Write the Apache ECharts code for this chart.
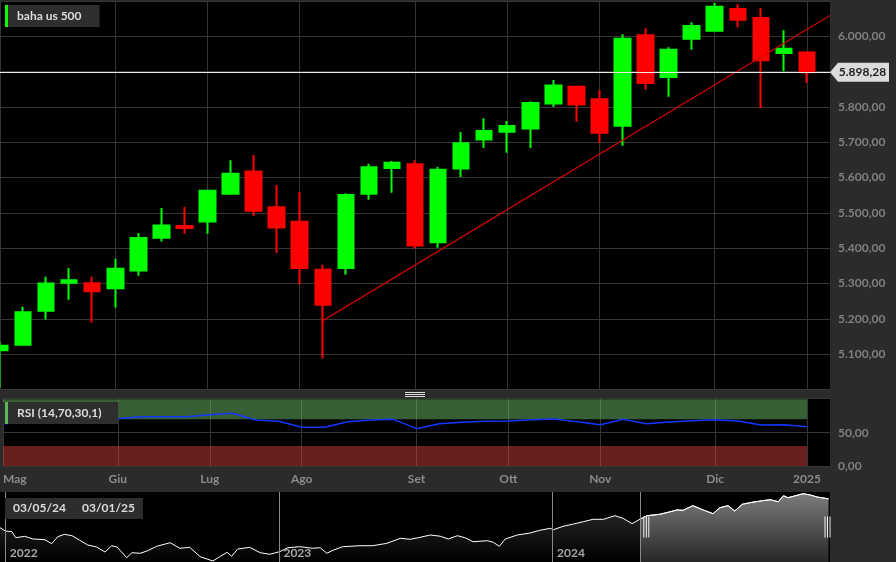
<!DOCTYPE html>
<html><head><meta charset="utf-8">
<script src="https://cdn.jsdelivr.net/npm/echarts@6/dist/echarts.min.js"></script>
<style>html,body{margin:0;padding:0;background:#2b2b2b}#c{width:896px;height:562px}</style>
</head><body><div id="c"></div>
<script>
// ---- data ----
const categories = ['2024-05-03','2024-05-10','2024-05-17','2024-05-24','2024-05-31','2024-06-07','2024-06-14','2024-06-21','2024-06-28','2024-07-05','2024-07-12','2024-07-19','2024-07-26','2024-08-02','2024-08-09','2024-08-16','2024-08-23','2024-08-30','2024-09-06','2024-09-13','2024-09-20','2024-09-27','2024-10-04','2024-10-11','2024-10-18','2024-10-25','2024-11-01','2024-11-08','2024-11-15','2024-11-22','2024-11-29','2024-12-06','2024-12-13','2024-12-20','2024-12-27','2025-01-03','2025-01-10'];
const opens  = [5111,5127,5223,5302,5301,5287,5337,5430,5463,5476,5554,5617,5516,5475,5339,5344,5554,5627,5638,5417,5626,5708,5730,5739,5810,5857,5822,5747,6003,5885,5993,6016,6077,6052,5953,5954];
const closes = [5124,5219,5300,5309,5278,5342,5429,5464,5457,5563,5611,5506,5459,5344,5240,5551,5629,5642,5408,5622,5697,5732,5746,5811,5861,5807,5727,5993,5868,5962,6029,6084,6047,5932,5965,5898.28];
const lows   = [5006,5125,5198,5254,5190,5232,5322,5419,5441,5441,5554,5492,5387,5297,5088,5325,5537,5557,5399,5401,5602,5684,5670,5684,5800,5758,5698,5690,5849,5829,5962,6016,6026,5797,5901,5868];
const highs  = [5135,5234,5319,5344,5319,5370,5443,5514,5517,5565,5649,5664,5579,5559,5353,5556,5639,5647,5649,5630,5729,5768,5760,5816,5876,5861,5847,6006,6023,5969,6040,6094,6091,6080,6017,5954];
const rsiValues = [63.5,66,70,71,69,71,74,74,74,77,79,69,67,58,58,66.5,69,70,56,63.5,65.6,67,67.6,69.5,70.5,66.5,62,70,63.5,66,68,69.5,67.6,61.6,62,59];
const monthTickIdx = [0,5,9,13,18,22,26,31,35];
const monthLabels  = ['Mag','Giu','Lug','Ago','Set','Ott','Nov','Dic','2025'];
const trendIdx    = [14,36];
const trendValues = [5195,6059];
const navDates = ['2021-12-25','2022-01-01','2022-01-10','2022-01-15','2022-01-27','2022-02-07','2022-02-23','2022-03-04','2022-03-12','2022-03-21','2022-03-31','2022-04-10','2022-04-21','2022-05-03','2022-05-14','2022-05-23','2022-05-30','2022-06-12','2022-06-19','2022-06-30','2022-07-10','2022-07-22','2022-08-09','2022-08-22','2022-09-04','2022-09-18','2022-10-05','2022-10-14','2022-10-24','2022-10-30','2022-11-07','2022-11-23','2022-12-07','2022-12-20','2023-01-02','2023-01-13','2023-01-29','2023-02-15','2023-02-25','2023-03-06','2023-03-14','2023-03-27','2023-04-19','2023-05-06','2023-05-25','2023-06-12','2023-06-25','2023-07-06','2023-07-22','2023-08-04','2023-08-15','2023-08-27','2023-09-06','2023-09-17','2023-10-06','2023-10-14','2023-10-22','2023-10-30','2023-11-15','2023-12-02','2023-12-15','2023-12-29','2024-01-02','2024-01-15','2024-01-29','2024-02-11','2024-02-24','2024-03-09','2024-03-24','2024-04-04','2024-04-16','2024-04-27','2024-05-06','2024-05-23','2024-06-03','2024-06-15','2024-06-23','2024-07-06','2024-07-20','2024-08-02','2024-08-11','2024-08-22','2024-08-31','2024-09-10','2024-09-23','2024-10-07','2024-10-17','2024-10-28','2024-11-04','2024-11-10','2024-11-30','2024-12-10','2024-12-19','2025-01-03'];
const navValues = [4824,4701,4675,4452,4503,4403,4377,4228,4488,4578,4526,4365,4179,4105,3918,4153,4105,3706,3892,3870,3967,4131,4265,4056,4093,3743,3583,3743,3907,3758,4030,4093,3892,3833,3930,4079,4116,4056,4079,3870,3982,4116,4153,4153,4242,4429,4392,4451,4552,4507,4403,4526,4451,4302,4340,4280,4131,4403,4552,4627,4727,4802,4749,4876,4962,5047,5137,5137,5271,5174,4973,5148,5271,5323,5398,5484,5472,5644,5484,5346,5569,5644,5446,5696,5770,5830,5867,5793,6016,5941,6090,6041,5967,5898];
const navSelStart = '2024-04-27';
const yearLines  = ['2022-01-01','2023-01-01','2024-01-01'];
const yearLabels = ['2022','2023','2024'];
const seriesName = 'baha us 500';
const rsiName = 'RSI (14,70,30,1)';

// ---- helpers ----
function fmt(v){const s=Number(v).toFixed(2).split('.');return s[0].replace(/\B(?=(\d{3})+(?!\d))/g,'.')+','+s[1];}
function ddmmyy(s){const p=s.split('-');return p[2]+'/'+p[1]+'/'+p[0].slice(2);}
const tp = d => +echarts.time.parse(d);
const gridColor = '#363636';
const labelMap = {}; monthTickIdx.forEach((ix,k)=>{labelMap[categories[ix]]=monthLabels[k];});
const isMonthTick = (i) => monthTickIdx.indexOf(i) >= 0;
const candleData = closes.map((c,i)=>[opens[i],closes[i],lows[i],highs[i]]);
const lastClose = closes[closes.length-1];
const navMin = 3546, navMax = 6154;
const navData = navDates.map((d,i)=>[d,navValues[i]]);
const navSel = navData.filter(p=>tp(p[0])>=tp(navSelStart));
const handleY = (navMin+navMax)/2;
const yearLabelY = navMin + 0.13*(navMax-navMin);
const boxText = {fontFamily:'Lato',fontSize:12,fontWeight:'bold',color:'#dcdcdc'};

const chart = echarts.init(document.getElementById('c'), null, {width:896,height:562});
chart.setOption({
  backgroundColor:'#2b2b2b',
  animation:false,
  textStyle:{fontFamily:'Lato'},
  title:[
    {left:5,top:5,padding:0,backgroundColor:'#2e2e2e',text:'{bar| }{t|'+seriesName+'}',
     textStyle:{rich:{bar:{width:3,height:22,backgroundColor:'#00ff00'},t:Object.assign({padding:[0,18,0,9],lineHeight:22},boxText)}}},
    {left:3,top:402,padding:0,backgroundColor:'#2e2e2e',text:'{sp| }{bar| }{t|'+rsiName+'}',
     textStyle:{rich:{sp:{width:2,height:22},bar:{width:3,height:22,backgroundColor:'#5cb85c'},t:Object.assign({padding:[0,17,0,9],lineHeight:22},boxText)}}},
    {left:5,top:498,padding:[4,8,4,8],backgroundColor:'#2d2d2d',text:ddmmyy(categories[0]),textStyle:Object.assign({lineHeight:13},boxText)},
    {left:74,top:498,padding:[4,8,4,8],backgroundColor:'#2d2d2d',text:ddmmyy(categories[closes.length-1]),textStyle:Object.assign({lineHeight:13},boxText)}
  ],
  graphic:[
    {type:'rect',shape:{x:405,y:392,width:20,height:1},style:{fill:'#dddddd'}},
    {type:'rect',shape:{x:405,y:394,width:20,height:1},style:{fill:'#dddddd'}},
    {type:'rect',shape:{x:405,y:396,width:20,height:1},style:{fill:'#dddddd'}}
  ],
  grid:[
    {left:0,right:66,top:1,height:388.5,show:true,backgroundColor:'#000',borderWidth:0},
    {left:0,right:66,top:398,height:68,show:true,backgroundColor:'#000',borderWidth:0},
    {left:0,right:66,top:492,height:70,show:true,backgroundColor:'#000',borderWidth:0}
  ],
  xAxis:[
    {gridIndex:0,type:'category',data:categories,boundaryGap:false,axisLine:{show:false},axisTick:{show:false},axisLabel:{show:false},
     splitLine:{show:true,interval:isMonthTick,lineStyle:{color:gridColor}}},
    {gridIndex:1,type:'category',data:categories,boundaryGap:false,axisLine:{show:false},axisTick:{show:false},
     axisLabel:{show:true,interval:isMonthTick,formatter:v=>labelMap[v]||'',color:'#8c8c8c',fontWeight:'bold',fontSize:12,margin:7,alignMinLabel:'left'},
     splitLine:{show:true,interval:isMonthTick,lineStyle:{color:gridColor}}},
    {gridIndex:2,type:'time',min:'2021-12-25',max:'2025-01-05',show:false}
  ],
  yAxis:[
    {gridIndex:0,type:'value',position:'right',min:5000,max:6100,interval:100,axisLine:{show:false},axisTick:{show:false},
     axisLabel:{margin:8,color:'#808080',fontWeight:'bold',fontSize:12,formatter:v=>(v<=5000||v>=6100)?'':fmt(v)},
     splitLine:{lineStyle:{color:gridColor}}},
    {gridIndex:1,type:'value',position:'right',min:0,max:102,interval:50,axisLine:{show:false},axisTick:{show:false},
     axisLabel:{margin:8,color:'#808080',fontWeight:'bold',fontSize:12,formatter:v=>(v===0||v===50)?fmt(v):''},
     splitLine:{lineStyle:{color:[gridColor,gridColor,'rgba(0,0,0,0)']}}},
    {gridIndex:2,type:'value',min:navMin,max:navMax,show:false}
  ],
  series:[
    {type:'candlestick',xAxisIndex:0,yAxisIndex:0,data:candleData,barWidth:16,
     itemStyle:{color:'#00ff00',color0:'#ff0000',borderColor:'#00ff00',borderColor0:'#ff0000',borderWidth:2},
     markLine:{silent:true,symbol:['none','none'],label:{show:false},lineStyle:{color:'#e8e8e8',width:1,type:'solid'},data:[{yAxis:lastClose}]}},
    {type:'line',xAxisIndex:0,yAxisIndex:0,silent:true,showSymbol:false,z:3,
     data:trendIdx.map((ix,k)=>[categories[ix],trendValues[k]]),lineStyle:{color:'#d00000',width:1.2}},
    {type:'scatter',xAxisIndex:0,yAxisIndex:0,silent:true,clip:false,z:10,
     data:[[categories[categories.length-1],lastClose]],
     symbol:'path://M0,9.5L8,0H59V19H8Z',symbolSize:[59,19],symbolKeepAspect:false,symbolOffset:[29.5,0],
     itemStyle:{color:'#dcdcdc',opacity:1},
     label:{show:true,position:'inside',offset:[3,0],formatter:fmt(lastClose),color:'#1e1e1e',fontSize:12,fontWeight:'bold',fontFamily:'Lato'}},
    {type:'line',xAxisIndex:1,yAxisIndex:1,data:[],silent:true,
     markArea:{silent:true,data:[
       [{xAxis:categories[0],yAxis:70,itemStyle:{color:'rgba(108,190,108,0.5)'}},{xAxis:categories[closes.length-1],yAxis:100}],
       [{xAxis:categories[0],yAxis:0,itemStyle:{color:'rgba(212,62,62,0.5)'}},{xAxis:categories[closes.length-1],yAxis:30}]
     ]}},
    {type:'line',xAxisIndex:1,yAxisIndex:1,data:rsiValues,showSymbol:false,silent:true,z:5,lineStyle:{color:'#1636ff',width:1.5}},
    {type:'line',xAxisIndex:2,yAxisIndex:2,data:navData,showSymbol:false,silent:true,
     lineStyle:{color:'#ffffff',width:1},
     areaStyle:{color:new echarts.graphic.LinearGradient(0,0,0,1,[{offset:0,color:'#474747'},{offset:1,color:'#000000'}])},
     markLine:{silent:true,symbol:['none','none'],label:{show:false},lineStyle:{color:'#8a8a8a',width:1,type:'solid'},
       data:yearLines.concat([navSelStart]).map(d=>({xAxis:tp(d)}))}},
    {type:'line',xAxisIndex:2,yAxisIndex:2,data:navSel,showSymbol:false,silent:true,z:3,
     lineStyle:{color:'#ffffff',width:1},
     areaStyle:{color:new echarts.graphic.LinearGradient(0,0,0,1,[{offset:0,color:'#9c9c9c'},{offset:1,color:'#383838'}])}},
    {type:'scatter',xAxisIndex:2,yAxisIndex:2,silent:true,clip:false,z:10,
     symbol:'path://M0,0H1V20H0Z M2.5,0H3.5V20H2.5Z M5,0H6V20H5Z',symbolSize:[6,21],symbolKeepAspect:false,
     itemStyle:{color:'#f2f2f2',opacity:1},
     data:[{value:[navSelStart,handleY],symbolOffset:[6,0]},{value:[navDates[navDates.length-1],handleY],symbolOffset:[-1,0]}]},
    {type:'scatter',xAxisIndex:2,yAxisIndex:2,silent:true,clip:false,z:10,symbolSize:1,itemStyle:{color:'rgba(0,0,0,0)'},
     label:{show:true,position:'right',distance:4,color:'#d0d0d0',fontWeight:'bold',fontSize:12,fontFamily:'Lato'},
     data:yearLines.map((d,i)=>({value:[d,yearLabelY],label:{formatter:yearLabels[i]}}))}
  ]
});
</script></body></html>
